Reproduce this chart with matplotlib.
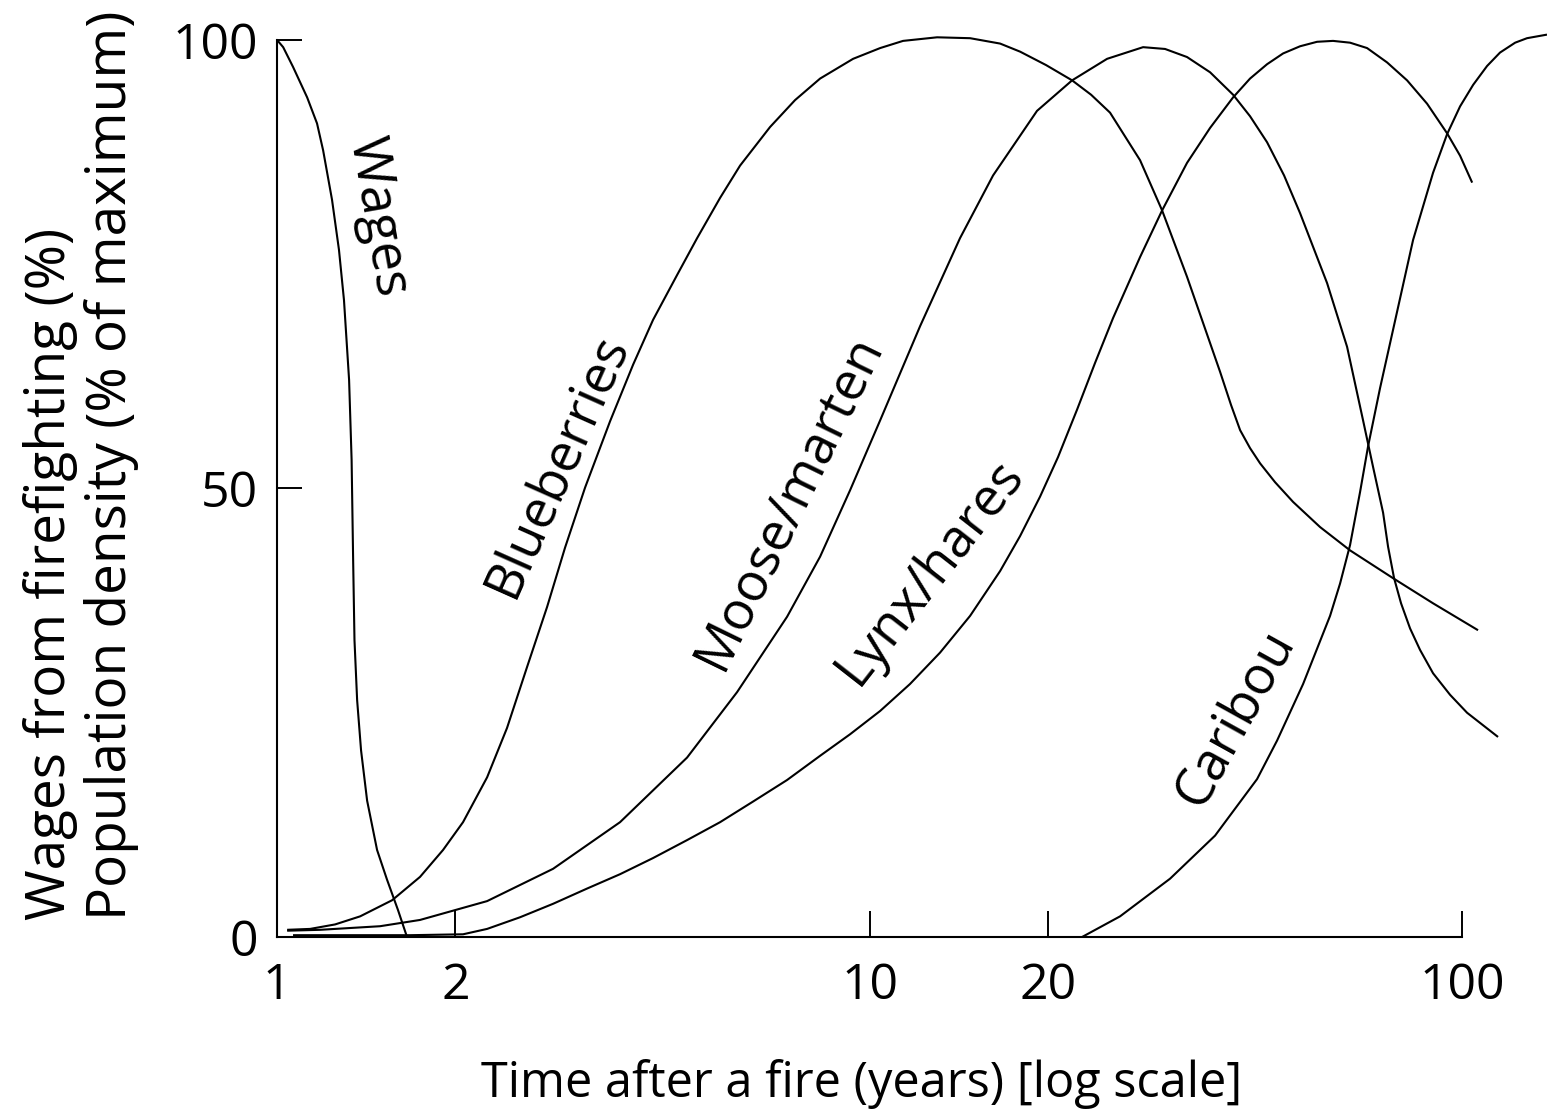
import matplotlib.pyplot as plt
from matplotlib.ticker import NullLocator

plt.rcParams['font.family'] = ['Open Sans', 'DejaVu Sans']

# values: years after fire (log axis) and percent
wages_years = [1.000, 1.024, 1.064, 1.124, 1.168, 1.196, 1.238, 1.272, 1.297, 1.323,
               1.336, 1.344, 1.351, 1.365, 1.386, 1.419, 1.475, 1.533, 1.600, 1.657]
wages_pct = [100, 99.2, 97.0, 93.6, 90.7, 87.7, 82.2, 76.6, 71.0, 62.1,
             53.2, 42.0, 33.1, 26.4, 20.8, 15.2, 9.7, 6.4, 3.0, 0.0]

blueberries_years = [1.040, 1.137, 1.253, 1.381, 1.564, 1.743, 1.906, 2.060, 2.262, 2.444,
                     2.642, 2.856, 3.062, 3.310, 3.648, 3.989, 4.311, 4.733, 5.115, 5.594,
                     6.046, 6.793, 7.486, 8.251, 9.380, 10.42, 11.39, 13.00, 14.78, 16.61,
                     17.95, 19.86, 21.97, 23.65, 25.46, 28.61, 31.17, 34.34, 39.05, 40.75,
                     42.21, 43.87, 45.62, 48.35, 51.86, 57.59, 64.71, 76.48, 89.34, 106.4]
blueberries_pct = [0.8, 0.9, 1.4, 2.3, 4.1, 6.7, 9.7, 12.8, 17.8, 23.3,
                   30.1, 36.8, 43.4, 50.1, 57.5, 63.8, 68.8, 73.8, 77.9, 82.4,
                   86.0, 90.3, 93.3, 95.7, 97.9, 99.1, 99.9, 100.3, 100.2, 99.6,
                   98.7, 97.2, 95.5, 93.9, 91.9, 86.6, 81.0, 73.6, 63.0, 59.3,
                   56.5, 54.5, 52.8, 50.7, 48.5, 45.7, 43.1, 40.0, 37.2, 34.2]

moose_years = [1.040, 1.182, 1.492, 1.743, 2.262, 2.923, 3.792, 4.920, 5.976, 7.257,
               8.251, 9.270, 10.42, 12.17, 14.21, 16.16, 19.17, 21.97, 25.17, 28.95,
               31.53, 34.34, 37.56, 41.07, 43.87, 46.87, 50.07, 53.28, 59.18, 63.96,
               68.06, 70.76, 73.57, 75.01, 76.78, 78.89, 81.70, 84.94, 89.34, 95.44,
               101.96, 115.0]
moose_pct = [0.7, 0.8, 1.2, 1.9, 4.0, 7.6, 12.8, 20.0, 27.3, 35.7,
             42.4, 49.8, 57.6, 68.1, 77.9, 84.9, 92.1, 95.5, 97.9, 99.2,
             99.0, 98.1, 96.4, 93.9, 91.5, 88.6, 84.9, 80.7, 72.9, 65.8,
             57.6, 52.4, 47.3, 43.5, 40.0, 37.2, 34.4, 32.0, 29.4, 27.0,
             25.0, 22.3]

lynx_years = [1.064, 1.677, 2.060, 2.262, 2.571, 2.923, 3.336, 3.792, 4.311, 4.920,
              5.594, 6.359, 7.257, 8.251, 9.270, 10.42, 11.70, 13.15, 14.78, 16.61,
              17.95, 19.40, 20.80, 22.40, 24.02, 25.76, 28.61, 31.17, 34.34, 37.56,
              41.07, 43.87, 46.87, 49.88, 53.28, 56.92, 60.57, 64.71, 69.13, 74.72,
              80.76, 87.28, 94.34, 99.23, 104.0]
lynx_pct = [0.2, 0.2, 0.3, 0.9, 2.2, 3.7, 5.4, 7.0, 8.8, 10.8,
            12.8, 15.1, 17.5, 20.2, 22.6, 25.2, 28.2, 31.7, 35.8, 40.8,
            44.7, 49.1, 53.5, 58.8, 64.0, 69.0, 75.8, 81.0, 86.3, 90.2,
            93.6, 95.7, 97.3, 98.5, 99.3, 99.8, 99.9, 99.7, 99.1, 97.5,
            95.5, 92.9, 89.6, 87.1, 84.1]

caribou_years = [22.84, 26.47, 32.15, 38.29, 45.08, 48.73, 53.91, 59.87, 62.24, 64.71,
                 67.27, 69.40, 72.71, 76.48, 82.66, 89.34, 94.34, 99.23, 104.4, 110.2,
                 115.9, 122.9, 128.7, 139.1]
caribou_pct = [0.0, 2.3, 6.5, 11.3, 17.6, 21.9, 28.2, 35.8, 39.4, 43.7,
               49.6, 54.7, 61.2, 67.7, 77.7, 85.2, 89.5, 92.6, 95.0, 97.1,
               98.6, 99.7, 100.2, 100.6]

x_ticks = [1, 2, 10, 20, 100]
x_tick_labels = ['1', '2', '10', '20', '100']
y_ticks = [0, 50, 100]
y_tick_labels = ['0', '50', '100']

# curve names written along the curves
label_text = ['Wages', 'Blueberries', 'Moose/marten', 'Lynx/hares', 'Caribou']
label_years = [1.475, 2.981, 7.314, 12.65, 41.55]
label_pct = [80.3, 52.6, 48.5, 40.7, 24.4]
label_angle = [-80, 66, 64, 52, 61]

fig = plt.figure(figsize=(15.47, 11.14), dpi=100)
ax = fig.add_axes([0.1791, 0.1589, 0.7660, 0.8052])

curves = [(wages_years, wages_pct), (blueberries_years, blueberries_pct),
          (moose_years, moose_pct), (lynx_years, lynx_pct),
          (caribou_years, caribou_pct)]
for years, pct in curves:
    ax.plot(years, pct, color='black', lw=1.5, clip_on=False,
            solid_joinstyle='round', solid_capstyle='butt')

for s, x, y, a in zip(label_text, label_years, label_pct, label_angle):
    ax.text(x, y, s, rotation=a, rotation_mode='anchor', ha='center', va='center',
            fontsize=38, color='black')

ax.set_xscale('log')
ax.set_xlim(1, 100)
ax.set_ylim(0, 100)
ax.set_xticks(x_ticks)
ax.set_xticklabels(x_tick_labels)
ax.xaxis.set_minor_locator(NullLocator())
ax.set_yticks(y_ticks)
ax.set_yticklabels(y_tick_labels)

ax.spines['top'].set_visible(False)
ax.spines['right'].set_visible(False)
ax.spines['left'].set_linewidth(1.5)
ax.spines['bottom'].set_linewidth(1.5)
ax.tick_params(axis='x', direction='in', length=19, width=1.4, pad=18, labelsize=36)
ax.tick_params(axis='y', direction='in', length=18, width=1.4, pad=14, labelsize=36)

fig.text(0.557, 0.0153, 'Time after a fire (years) [log scale]', ha='center',
         va='baseline', fontsize=35)
fig.text(0.0524, 0.1741, 'Wages from firefighting (%)\nPopulation density (% of maximum)',
         rotation=90, ha='center', va='bottom', multialignment='left', fontsize=39.5,
         linespacing=1.15)

fig.savefig('out.png', dpi=100)
